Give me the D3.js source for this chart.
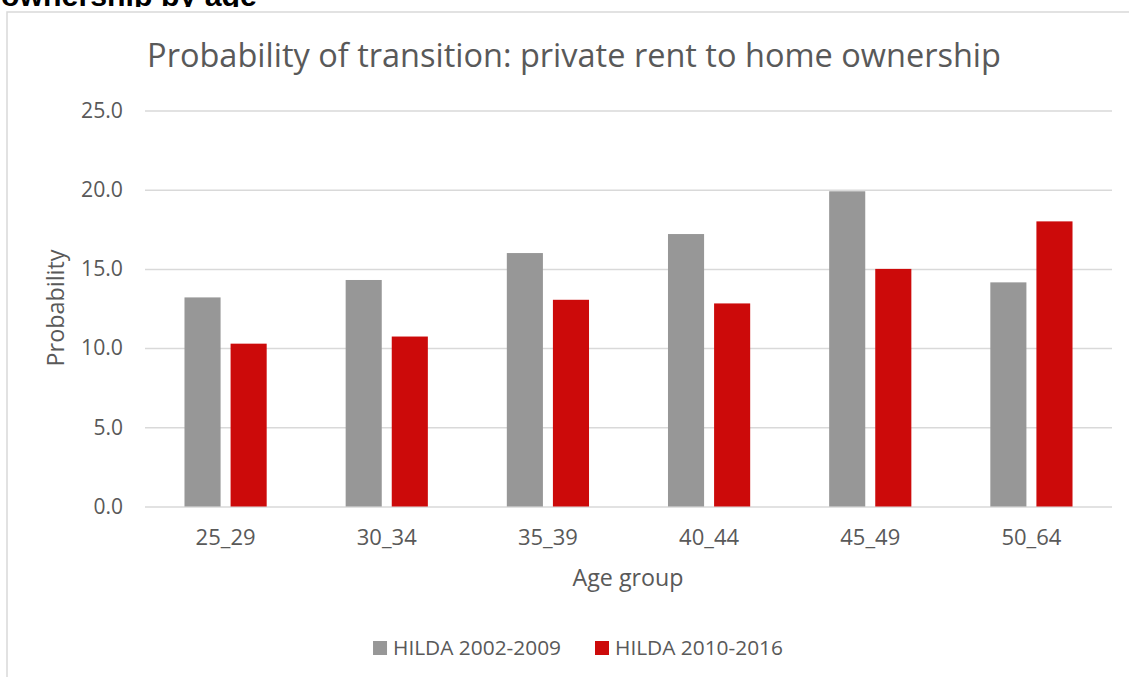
<!DOCTYPE html>
<html>
<head>
<meta charset="utf-8">
<script src="https://cdn.jsdelivr.net/npm/d3@7"></script>
<style>
  body { margin: 0; background: #fff; }
  svg { display: block; }
  text { font-family: "Open Sans", sans-serif; fill: #595959; }
  .grid line { stroke: #d9d9d9; stroke-width: 1.5; }
</style>
</head>
<body>
<svg id="chart" width="1129" height="677"></svg>
<script>
const categories = ["25_29", "30_34", "35_39", "40_44", "45_49", "50_64"]
const seriesNames = ["HILDA 2002-2009", "HILDA 2010-2016"]
const hilda0209 = [13.2, 14.3, 16.0, 17.2, 19.9, 14.15]
const hilda1016 = [10.28, 10.73, 13.05, 12.82, 15.0, 18.0]
const yTicks = [0, 5, 10, 15, 20, 25]
const colors = ["#979797", "#cc0a0a"]

let svg = d3.select("#chart")
let margin = {top: 110.5, bottom: 170.5, left: 145, right: 17}
let width = 1129, height = 677
let w = width - margin.left - margin.right
let h = height - margin.top - margin.bottom

// make a text element fit a given width by adjusting its font size
function fit(sel, target) {
  sel.each(function() {
    let size = parseFloat(d3.select(this).style("font-size"))
    let len = this.getComputedTextLength()
    d3.select(this).style("font-size", (size * target / len) + "px")
  })
}

// heading cut off at top of the picture
svg.append("clipPath").attr("id", "topclip")
  .append("rect").attr("x", 0).attr("y", 0).attr("width", width).attr("height", 7)
let head = svg.append("text")
  .attr("clip-path", "url(#topclip)")
  .attr("x", 1).attr("y", 6)
  .style("font-family", "'Liberation Sans', Arial, sans-serif")
  .style("font-weight", "bold").style("font-size", "28px").style("fill", "#000")
  .text("ownership by age")
fit(head, 256)

// chart area border
svg.append("path")
  .attr("d", "M7,677 V12 H1129")
  .attr("fill", "none").attr("stroke", "#d9d9d9").attr("stroke-width", 1.5)

let g = svg.append("g").attr("transform", "translate(" + margin.left + "," + margin.top + ")")

let xScale = d3.scaleBand().domain(categories).range([0, w]).paddingInner(0.49).paddingOuter(0.245)
let xSub = d3.scaleBand().domain(seriesNames).range([0, xScale.bandwidth()]).paddingInner(0.217)
let yScale = d3.scaleLinear().domain([0, 25]).range([h, 0])

g.append("g")
  .attr("class", "grid")
  .call(d3.axisLeft(yScale).tickValues(yTicks).tickSize(-w).tickPadding(22).tickFormat(d3.format(".1f")))
  .call(a => a.select(".domain").remove())
  .call(a => a.selectAll("text").style("font-size", "21px").attr("fill", "#595959").style("font-family", "'Open Sans', sans-serif"))

let seriesData = [hilda0209, hilda1016]
seriesData.forEach((vals, si) => {
  g.append("g").selectAll("rect")
    .data(vals)
    .join("rect")
    .attr("x", (d, i) => xScale(categories[i]) + xSub(seriesNames[si]))
    .attr("width", xSub.bandwidth())
    .attr("y", d => yScale(d))
    .attr("height", d => yScale(0) - yScale(d))
    .attr("fill", colors[si])
})

let xAxis = g.append("g")
  .attr("transform", "translate(0," + h + ")")
  .call(d3.axisBottom(xScale).tickSize(0).tickPadding(23))
  .call(a => a.select(".domain").remove())
xAxis.selectAll("text").style("font-size", "21px").attr("fill", "#595959").style("font-family", "'Open Sans', sans-serif")
fit(xAxis.selectAll("text"), 60)
fit(g.selectAll(".grid text").filter(d => d >= 10), 42)

// title
let title = svg.append("text")
  .attr("x", 574).attr("y", 67)
  .style("text-anchor", "middle").style("font-size", "30px")
  .text("Probability of transition: private rent to home ownership")
fit(title, 854)

// axis titles
let ylab = svg.append("text")
  .attr("transform", "translate(64,308) rotate(-90)")
  .style("text-anchor", "middle").style("font-size", "20px")
  .text("Probability")
fit(ylab, 117)

let xlab = svg.append("text")
  .attr("x", 628).attr("y", 586)
  .style("text-anchor", "middle").style("font-size", "20px")
  .text("Age group")
fit(xlab, 111)

// legend
let legend = svg.append("g")
let items = legend.selectAll("g").data(seriesNames).join("g")
items.append("rect").attr("width", 14).attr("height", 14).attr("y", -14).attr("fill", (d, i) => colors[i])
items.append("text").attr("x", 20).attr("y", 0).style("font-size", "19px").text(d => d)
fit(items.selectAll("text"), 168)
let xpos = 0
items.each(function() {
  d3.select(this).attr("transform", "translate(" + xpos + ",0)")
  xpos += this.getBBox().width + 34
})
let total = xpos - 34
legend.attr("transform", "translate(" + (578 - total / 2) + ",655)")
</script>
</body>
</html>
